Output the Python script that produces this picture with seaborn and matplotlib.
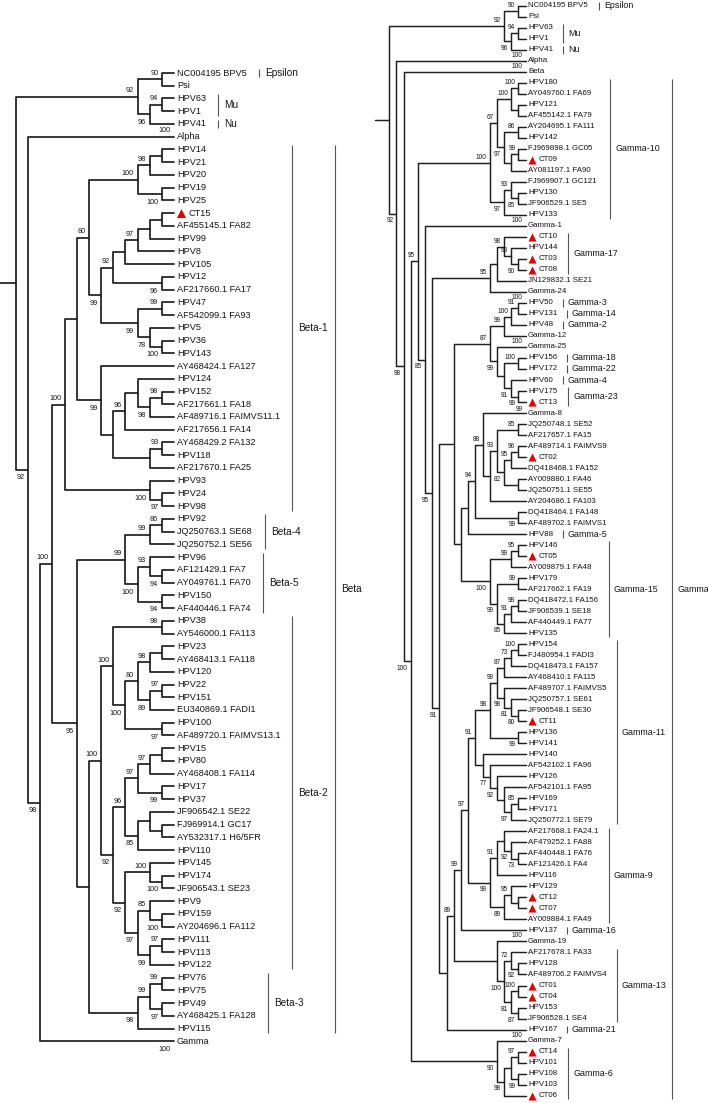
"""
Phylogenetic trees of HPV types (Beta and Gamma genera) with CT samples marked
"""

import numpy as np
import pandas as pd
import matplotlib
matplotlib.use("Agg")
import matplotlib.pyplot as plt
import seaborn as sns
from matplotlib.transforms import offset_copy

# ============================================================================
# DATA - tree topology as Newick-like strings
# node: (children)level:support+position   (a = above branch, b = below)
# leaf: name[:support+position]  (support shown for collapsed clades)
# ============================================================================

# ---- left tree (Beta) ----
L_outgroup = "((NC004195 BPV5,Psi)12:90a,((HPV63,HPV1)12:94a,HPV41)11:96b)10:92a"
L_b1_top = "(((HPV14,HPV21)12,HPV20)11:98a,(HPV19,HPV25)12:100b)10:100a"
L_b1_mid = ("((((((CT15,AF455145.1 FA82)12,HPV99)11,HPV8)10:97a,HPV105)9,"
            "(HPV12,AF217660.1 FA17)12:96b)8:92a,"
            "((HPV47,AF542099.1 FA93)12:99a,(HPV5,(HPV36,HPV143)12:100b)11:78b)10:99b)7:99b")
L_b1_fa127 = ("(AY468424.1 FA127,(((HPV124,((HPV152,AF217661.1 FA18)12:98a,"
              "AF489716.1 FAIMVS11.1)11:98b)10,AF217656.1 FA14)9:96a,"
              "((AY468429.2 FA132,HPV118)12:93a,AF217670.1 FA25)11)8)7:99b")
L_hpv93 = "(HPV93,(HPV24,HPV98)12:97b)11:100b"
L_beta45 = ("(((HPV92,JQ250763.1 SE68)12:86a,JQ250752.1 SE56)11:99a,"
            "((HPV96,(AF121429.1 FA7,AY049761.1 FA70)12:94b)11:93a,"
            "(HPV150,AF440446.1 FA74)12:94b)10:100b)9:99a")
L_beta2a = ("((HPV38,AY546000.1 FA113)12:98a,((((HPV23,AY468413.1 FA118)12,HPV120)11:98a,"
            "((HPV22,HPV151)12:97a,EU340869.1 FADI1)11:89b)10:80a,"
            "(HPV100,AF489720.1 FAIMVS13.1)12:97b)9:100b)8:100a")
L_beta2b = ("(((((HPV15,HPV80)12,AY468408.1 FA114)11:97a,(HPV17,HPV37)12:99b)10:97a,"
            "((JF906542.1 SE22,(FJ969914.1 GC17,AY532317.1 H6/5FR)12)11,HPV110)10:85b)9:96a,"
            "((HPV145,(HPV174,JF906543.1 SE23)12:100b)11:100a,"
            "((HPV9,(HPV159,AY204696.1 FA112)12:100b)11:85a,"
            "((HPV111,HPV113)12:97a,HPV122)11:99b)10:97b)9:92b)8:92b")
L_beta3 = "(((HPV76,HPV75)12:99a,(HPV49,AY468425.1 FA128)12:97b)11:99a,HPV115)10:98b"

L_beta1 = "((" + L_b1_top + "," + L_b1_mid + ")6:80a," + L_b1_fa127 + ")5"
L_beta2 = "(" + L_beta2a + "," + L_beta2b + ")7:100a"
left_tree = ("(" + L_outgroup + ",(Alpha:100a,(((" + L_beta1 + "," + L_hpv93 + ")4:100a,("
             + L_beta45 + ",(" + L_beta2 + "," + L_beta3 + ")6)5:95b)3:100a,Gamma:100b)2:98b)1:92b)0")

# ---- right tree (Gamma) ----
R_outgroup = "((NC004195 BPV5,Psi)18:90a,((HPV63,HPV1)18:94a,HPV41)17:96b)16:92a"
R_gamma10 = ("((((HPV180,AY049760.1 FA69)18:100a,(HPV121,AF455142.1 FA79)18)17:100a,"
             "((AY204695.1 FA111,HPV142)18:86a,((FJ969898.1 GC05,CT09)18:99a,AY081197.1 FA90)17)16:97b)15:67a,"
             "((FJ969907.1 GC121,(HPV130,JF906529.1 SE5)18:85b)17:93a,HPV133)16:97b)14:100a")
R_gamma17 = "(((CT10,(HPV144,(CT03,CT08)18:90b)17:93a)16:98a,JN129832.1 SE21)15,Gamma-24)14:95a"
R_g87 = ("((((HPV50:100a,HPV131)18:91a,HPV48)17:100a,Gamma-12)16:99a,"
         "(Gamma-25:100a,((HPV156,HPV172)18:100a,(HPV60,(HPV175,CT13:99b)18:99b)17:91b)16)15:99b)14:87a")
R_g8 = ("(((Gamma-8,(((JQ250748.1 SE52,AF217657.1 FA15)18:85a,"
        "(((AF489714.1 FAIMVS9,CT02)18:96a,DQ418468.1 FA152)17:95a,"
        "(AY009880.1 FA46,JQ250751.1 SE55)18)16:82b)15:93a,AY204686.1 FA103)14)13:88a,"
        "(DQ418464.1 FA148,AF489702.1 FAIMVS1)18:99b)12:94a,HPV88)11")
R_gamma15 = ("(((HPV146,CT05)18:95a,AY009879.1 FA48)17:99a,((HPV179,AF217662.1 FA19)18:99a,"
             "(((DQ418472.1 FA156,JF906539.1 SE18)18:98a,AF440449.1 FA77)17:91a,HPV135)16:85b)15:99b)14:100b")
R_gamma11 = ("((((((HPV154,FJ480954.1 FADI3)18:100a,DQ418473.1 FA157)17:73a,AY468410.1 FA115)16:87a,"
             "(AF489707.1 FAIMVS5,(JQ250757.1 SE61,(JF906548.1 SE30,CT11)18:80b)17:81b)16:98b)15:99a,"
             "(HPV136,HPV141)18:99b)14:98a,"
             "(HPV140,(AF542102.1 FA96,(HPV126,(AF542101.1 FA95,((HPV169,HPV171)18:85a,"
             "JQ250772.1 SE79)17:97b)16)15:92b)14:77b)13)12:91a")
R_gamma9 = ("(((AF217668.1 FA24.1,(AF479252.1 FA88,(AF440448.1 FA76,AF121426.1 FA4)18:73b)17:92b)16,"
            "HPV116)15:91a,((HPV129,(CT12,CT07)18)17:95a,AY009884.1 FA49)16:89b)14:99b")
R_gamma13 = ("(Gamma-19:100a,((AF217678.1 FA33,(HPV128,AF489706.2 FAIMVS4)18:92b)17:72a,"
             "((CT01,CT04)18:100a,(HPV153,JF906528.1 SE4)18:87b)17:81b)16:100b)15")
R_gamma6 = "(Gamma-7:100a,(((CT14,HPV101)18:97a,(HPV108,HPV103)18:99b)17,CT06)16:98b)15:90b"

R_W = "(" + R_g87 + ",(" + R_g8 + "," + R_gamma15 + ")10)9"
R_N1 = "((((" + R_gamma11 + "," + R_gamma9 + ")11:97a,HPV137)10:99a," + R_gamma13 + ")9:89a,HPV167)8"
R_Y = "(" + R_gamma17 + ",(" + R_W + "," + R_N1 + ")7:91b)6:95b"
R_E = "(" + R_gamma10 + ",(Gamma-1:100a," + R_Y + ")5:85b)4:95a"
right_tree = ("(" + R_outgroup + ",(Alpha:100a,(Beta:100a,(" + R_E + "," + R_gamma6
              + ")3:100b)2:98b)1:92b)0")

# study samples (red triangles)
study_samples = ["CT15", "CT09", "CT10", "CT03", "CT08", "CT13", "CT02", "CT05",
                 "CT11", "CT12", "CT07", "CT01", "CT04", "CT14", "CT06"]

# clade annotations
left_clades = ["Epsilon", "Mu", "Nu", "Beta-1", "Beta-4", "Beta-5", "Beta-2", "Beta-3", "Beta"]
left_first = ["NC004195 BPV5", "HPV63", "HPV41", "HPV14", "HPV92", "HPV96", "HPV38", "HPV76", "HPV14"]
left_last = ["NC004195 BPV5", "HPV1", "HPV41", "HPV98", "JQ250752.1 SE56", "AF440446.1 FA74",
             "HPV122", "HPV115", "HPV115"]

right_clades = ["Epsilon", "Mu", "Nu", "Gamma-10", "Gamma-17", "Gamma-3", "Gamma-14", "Gamma-2",
                "Gamma-18", "Gamma-22", "Gamma-4", "Gamma-23", "Gamma-5", "Gamma-15", "Gamma-11",
                "Gamma-9", "Gamma-16", "Gamma-13", "Gamma-21", "Gamma-6", "Gamma"]
right_first = ["NC004195 BPV5", "HPV63", "HPV41", "HPV180", "CT10", "HPV50", "HPV131", "HPV48",
               "HPV156", "HPV172", "HPV60", "HPV175", "HPV88", "HPV146", "HPV154",
               "AF217668.1 FA24.1", "HPV137", "AF217678.1 FA33", "HPV167", "CT14", "HPV180"]
right_last = ["NC004195 BPV5", "HPV1", "HPV41", "HPV133", "CT08", "HPV50", "HPV131", "HPV48",
              "HPV156", "HPV172", "HPV60", "CT13", "HPV88", "HPV135", "JQ250772.1 SE79",
              "AY009884.1 FA49", "HPV137", "JF906528.1 SE4", "HPV167", "CT06", "CT06"]

# ============================================================================
# LAYOUT (pixels on a 708x1103 canvas)
# ============================================================================
W, H, DPI = 708, 1103, 100
PT = 72 / DPI

left_bar_px = [259, 218, 218, 292, 265, 263, 292, 268, 335]
right_bar_px = [599, 563, 563, 610, 568, 563, 567, 563, 567, 567, 563, 568, 563,
                609, 617, 609, 567, 617, 567, 568, 672]

LEFT = dict(x0=16, dx=12.15, y0=73, dy=12.74, tip=13, stub=0, lw=1.25,
            leaf_fs=6.6, sup_fs=5.2, clade_fs=7.2, leaf_dx=3, tri_dx=7, tri_txt=15,
            tri_s=42, sup_dx=3.5, sup_up=6, sup_dn=8, clade_dx=6, ext=0.35)
RIGHT = dict(x0=389.3, dx=7.17, y0=5.7, dy=11.009, tip=19, stub=375, lw=1.05,
             leaf_fs=5.7, sup_fs=4.7, clade_fs=6.4, leaf_dx=2.5, tri_dx=6, tri_txt=12.7,
             tri_s=34, sup_dx=3, sup_up=5.5, sup_dn=7, clade_dx=5, ext=0.35)

TREE_COLOR = "#1f1f1f"
TEXT_COLOR = "#141414"
BAR_COLOR = "#555555"
RED = "#e60000"


def parse(s):
    pos = 0

    def read():
        nonlocal pos
        start = pos
        while pos < len(s) and s[pos] not in ",()":
            pos += 1
        return s[start:pos]

    def node():
        nonlocal pos
        if s[pos] == "(":
            pos += 1
            kids = [node()]
            while s[pos] == ",":
                pos += 1
                kids.append(node())
            assert s[pos] == ")", s[pos:pos + 30]
            pos += 1
            lvl, _, sup = read().partition(":")
            return {"kids": kids, "x": float(lvl), "sup": sup.strip()}
        name, _, sup = read().partition(":")
        return {"name": name.strip(), "sup": sup.strip()}

    return node()


def draw_tree(fig, newick, clades, firsts, lasts, bars_px, L):
    ax = fig.add_axes([0, 0, 1, 1])
    ax.patch.set_alpha(0)
    root = parse(newick)

    leaves, nodes = [], []

    def place(n):
        nodes.append(n)
        if "kids" in n:
            for k in n["kids"]:
                place(k)
            n["y"] = (n["kids"][0]["y"] + n["kids"][-1]["y"]) / 2
        else:
            n["x"] = L["tip"]
            n["y"] = len(leaves)
            leaves.append(n)

    place(root)

    # branch segments
    stub = (L["stub"] - L["x0"]) / L["dx"]
    segs = [[(stub, root["y"]), (root["x"], root["y"])]]
    for n in nodes:
        if "kids" not in n:
            continue
        a, b = n["kids"][0], n["kids"][-1]
        segs.append([(a["x"], a["y"]), (n["x"], a["y"]), (n["x"], b["y"]), (b["x"], b["y"])])
        for k in n["kids"][1:-1]:
            segs.append([(n["x"], k["y"]), (k["x"], k["y"])])
    df = pd.DataFrame([(i, x, y) for i, s in enumerate(segs) for x, y in s],
                      columns=["seg", "x", "y"])
    sns.lineplot(data=df, x="x", y="y", units="seg", estimator=None, sort=False,
                 color=TREE_COLOR, linewidth=L["lw"], legend=False, ax=ax)

    # bootstrap values
    for n in nodes:
        if not n["sup"]:
            continue
        val, where = n["sup"][:-1], n["sup"][-1]
        dy = L["sup_up"] if where == "a" else -L["sup_dn"]
        tr = offset_copy(ax.transData, fig=fig, x=-L["sup_dx"] * PT, y=dy * PT, units="points")
        ax.text(n["x"], n["y"], val, transform=tr, ha="right", va="center",
                fontsize=L["sup_fs"], color=TEXT_COLOR)

    # leaf labels + study sample markers
    marked = [n for n in leaves if n["name"] in study_samples]
    if marked:
        sns.scatterplot(x=[L["tip"] + L["tri_dx"] / L["dx"]] * len(marked),
                        y=[n["y"] for n in marked], marker="^", s=L["tri_s"],
                        color=RED, edgecolor=RED, linewidth=0, legend=False, ax=ax)
    for n in leaves:
        dx = L["tri_txt"] if n["name"] in study_samples else L["leaf_dx"]
        tr = offset_copy(ax.transData, fig=fig, x=dx * PT, y=0, units="points")
        ax.text(L["tip"], n["y"], n["name"], transform=tr, ha="left", va="center",
                fontsize=L["leaf_fs"], color=TEXT_COLOR)

    # clade bars
    index = {n["name"]: n["y"] for n in leaves}
    for name, f, l, bx in zip(clades, firsts, lasts, bars_px):
        y1, y2 = index[f] - L["ext"], index[l] + L["ext"]
        x = (bx - L["x0"]) / L["dx"]
        ax.vlines(x, y1, y2, color=BAR_COLOR, lw=0.8)
        tr = offset_copy(ax.transData, fig=fig, x=L["clade_dx"] * PT, y=0, units="points")
        ax.text(x, (y1 + y2) / 2, name, transform=tr, ha="left", va="center",
                fontsize=L["clade_fs"], color=TEXT_COLOR)

    ax.set_xlim(-L["x0"] / L["dx"], (W - L["x0"]) / L["dx"])
    ax.set_ylim((H - L["y0"]) / L["dy"], -L["y0"] / L["dy"])
    ax.axis("off")
    return len(leaves)


sns.set_theme(style="white")
plt.rcParams["font.family"] = ["Liberation Sans", "DejaVu Sans"]

fig = plt.figure(figsize=(W / DPI, H / DPI), dpi=DPI)
fig.patch.set_facecolor("white")

n_left = draw_tree(fig, left_tree, left_clades, left_first, left_last, left_bar_px, LEFT)
n_right = draw_tree(fig, right_tree, right_clades, right_first, right_last, right_bar_px, RIGHT)
print(f"Left tree: {n_left} leaves, right tree: {n_right} leaves")

fig.savefig("out.png", dpi=DPI, facecolor="white")
print("Saved: out.png")
